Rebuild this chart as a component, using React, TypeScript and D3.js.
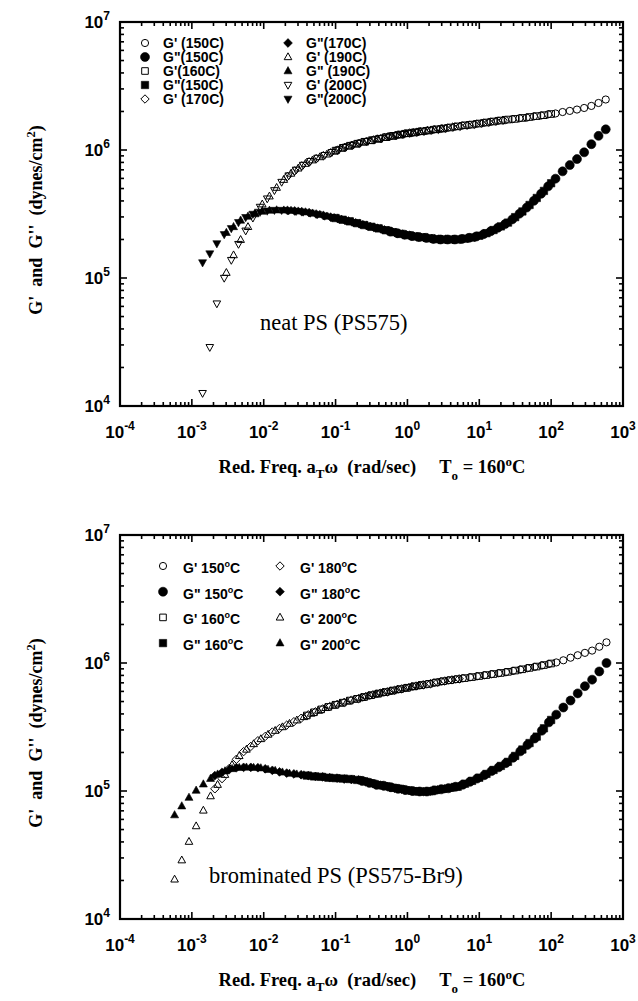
import React from 'react';
import * as d3 from 'd3';

// ---------------- DATA ----------------
// raw measured frequencies (rad/s)
const freqTop = [0.1, 0.126, 0.158, 0.2, 0.251, 0.316, 0.398, 0.501, 0.631, 0.794, 1, 1.26, 1.58, 2, 2.51, 3.16, 3.98, 5.01, 6.31, 7.94, 10, 12.6, 15.8, 20, 25.1, 31.6, 39.8, 50.1, 63.1, 79.4, 100];
const freqBottom = [0.0398, 0.0501, 0.0631, 0.0794, 0.1, 0.126, 0.158, 0.2, 0.251, 0.316, 0.398, 0.501, 0.631, 0.794, 1, 1.26, 1.58, 2, 2.51, 3.16, 3.98, 5.01, 6.31, 7.94, 10, 12.6, 15.8, 20, 25.1, 31.6, 39.8, 50.1, 63.1, 79.4, 100];

// shift factors a_T (T0 = 160C)
const tempsTop = ['150C', '160C', '170C', '190C', '200C'];
const shiftTop = [5.75, 1, 0.214, 0.0302, 0.0141];
const tempsBottom = ['150C', '160C', '180C', '200C'];
const shiftBottom = [5.89, 1, 0.0525, 0.01445];

// neat PS (PS575): G' and G'' in dynes/cm2
const gp150T = [1.28e6, 1.31e6, 1.34e6, 1.36e6, 1.39e6, 1.41e6, 1.44e6, 1.46e6, 1.49e6, 1.52e6, 1.55e6, 1.57e6, 1.60e6, 1.63e6, 1.66e6, 1.69e6, 1.71e6, 1.74e6, 1.77e6, 1.79e6, 1.83e6, 1.86e6, 1.90e6, 1.93e6, 1.98e6, 2.02e6, 2.07e6, 2.13e6, 2.21e6, 2.33e6, 2.48e6];
const gpp150T = [2.31e5, 2.24e5, 2.18e5, 2.13e5, 2.09e5, 2.06e5, 2.02e5, 2.00e5, 2.00e5, 2.00e5, 2.02e5, 2.06e5, 2.11e5, 2.20e5, 2.32e5, 2.47e5, 2.64e5, 2.87e5, 3.18e5, 3.55e5, 4.01e5, 4.55e5, 5.20e5, 5.97e5, 6.81e5, 7.62e5, 8.49e5, 9.59e5, 1.11e6, 1.29e6, 1.45e6];
const gp160T = [9.89e5, 1.04e6, 1.08e6, 1.12e6, 1.16e6, 1.19e6, 1.22e6, 1.26e6, 1.29e6, 1.32e6, 1.35e6, 1.37e6, 1.40e6, 1.42e6, 1.45e6, 1.47e6, 1.50e6, 1.53e6, 1.56e6, 1.58e6, 1.61e6, 1.64e6, 1.67e6, 1.70e6, 1.73e6, 1.75e6, 1.78e6, 1.81e6, 1.84e6, 1.87e6, 1.91e6];
const gpp160T = [2.94e5, 2.85e5, 2.77e5, 2.68e5, 2.59e5, 2.51e5, 2.44e5, 2.36e5, 2.28e5, 2.21e5, 2.16e5, 2.11e5, 2.08e5, 2.04e5, 2.01e5, 2.00e5, 2.00e5, 2.00e5, 2.03e5, 2.07e5, 2.14e5, 2.24e5, 2.37e5, 2.53e5, 2.71e5, 2.99e5, 3.31e5, 3.72e5, 4.22e5, 4.79e5, 5.50e5];
const gp170T = [6.22e5, 6.87e5, 7.52e5, 8.09e5, 8.57e5, 9.04e5, 9.51e5, 1.00e6, 1.05e6, 1.09e6, 1.13e6, 1.17e6, 1.20e6, 1.23e6, 1.27e6, 1.30e6, 1.33e6, 1.36e6, 1.38e6, 1.40e6, 1.43e6, 1.45e6, 1.48e6, 1.51e6, 1.53e6, 1.56e6, 1.59e6, 1.62e6, 1.65e6, 1.68e6, 1.71e6];
const gpp170T = [3.37e5, 3.34e5, 3.30e5, 3.24e5, 3.16e5, 3.08e5, 2.99e5, 2.91e5, 2.82e5, 2.74e5, 2.65e5, 2.57e5, 2.49e5, 2.42e5, 2.34e5, 2.26e5, 2.20e5, 2.15e5, 2.10e5, 2.07e5, 2.03e5, 2.01e5, 2.00e5, 2.00e5, 2.01e5, 2.05e5, 2.09e5, 2.17e5, 2.28e5, 2.42e5, 2.58e5];
const gp190T = [1.10e5, 1.51e5, 1.99e5, 2.51e5, 3.16e5, 3.77e5, 4.35e5, 5.08e5, 5.86e5, 6.55e5, 7.19e5, 7.82e5, 8.32e5, 8.81e5, 9.25e5, 9.77e5, 1.03e6, 1.07e6, 1.11e6, 1.15e6, 1.18e6, 1.22e6, 1.25e6, 1.28e6, 1.31e6, 1.34e6, 1.37e6, 1.39e6, 1.42e6, 1.44e6, 1.47e6];
const gpp190T = [2.26e5, 2.51e5, 2.82e5, 3.03e5, 3.21e5, 3.31e5, 3.37e5, 3.39e5, 3.38e5, 3.36e5, 3.32e5, 3.27e5, 3.20e5, 3.12e5, 3.03e5, 2.95e5, 2.87e5, 2.79e5, 2.70e5, 2.61e5, 2.53e5, 2.45e5, 2.38e5, 2.30e5, 2.23e5, 2.17e5, 2.12e5, 2.08e5, 2.05e5, 2.02e5, 2.00e5];
const gp200T = [1.26e4, 2.88e4, 6.31e4, 1.00e5, 1.38e5, 1.84e5, 2.34e5, 2.95e5, 3.59e5, 4.17e5, 4.84e5, 5.62e5, 6.31e5, 7.00e5, 7.64e5, 8.18e5, 8.67e5, 9.12e5, 9.62e5, 1.01e6, 1.06e6, 1.10e6, 1.14e6, 1.17e6, 1.21e6, 1.24e6, 1.27e6, 1.30e6, 1.33e6, 1.36e6, 1.39e6];
const gpp200T = [1.32e5, 1.55e5, 1.86e5, 2.19e5, 2.44e5, 2.72e5, 2.98e5, 3.16e5, 3.28e5, 3.35e5, 3.39e5, 3.39e5, 3.37e5, 3.33e5, 3.29e5, 3.23e5, 3.15e5, 3.06e5, 2.98e5, 2.90e5, 2.81e5, 2.72e5, 2.64e5, 2.55e5, 2.48e5, 2.40e5, 2.32e5, 2.25e5, 2.19e5, 2.14e5, 2.10e5];

// brominated PS (PS575-Br9)
const gp150B = [5.38e5, 5.56e5, 5.73e5, 5.89e5, 6.04e5, 6.21e5, 6.37e5, 6.53e5, 6.68e5, 6.82e5, 7.00e5, 7.16e5, 7.31e5, 7.45e5, 7.59e5, 7.73e5, 7.87e5, 8.02e5, 8.17e5, 8.32e5, 8.47e5, 8.67e5, 8.87e5, 9.10e5, 9.31e5, 9.55e5, 9.82e5, 1.01e6, 1.05e6, 1.10e6, 1.15e6, 1.20e6, 1.25e6, 1.34e6, 1.45e6];
const gpp150B = [1.20e5, 1.16e5, 1.12e5, 1.10e5, 1.07e5, 1.04e5, 1.02e5, 1.00e5, 9.91e4, 9.91e4, 1.01e5, 1.03e5, 1.05e5, 1.08e5, 1.12e5, 1.18e5, 1.25e5, 1.33e5, 1.43e5, 1.53e5, 1.65e5, 1.82e5, 2.04e5, 2.29e5, 2.57e5, 2.96e5, 3.44e5, 3.95e5, 4.49e5, 5.09e5, 5.79e5, 6.59e5, 7.41e5, 8.59e5, 1.00e6];
const gp160B = [3.89e5, 4.12e5, 4.34e5, 4.54e5, 4.72e5, 4.90e5, 5.09e5, 5.25e5, 5.43e5, 5.61e5, 5.78e5, 5.93e5, 6.10e5, 6.25e5, 6.41e5, 6.58e5, 6.73e5, 6.87e5, 7.05e5, 7.21e5, 7.35e5, 7.48e5, 7.62e5, 7.76e5, 7.91e5, 8.05e5, 8.20e5, 8.36e5, 8.53e5, 8.73e5, 8.93e5, 9.16e5, 9.38e5, 9.64e5, 9.91e5];
const gpp160B = [1.32e5, 1.30e5, 1.29e5, 1.27e5, 1.26e5, 1.25e5, 1.24e5, 1.22e5, 1.19e5, 1.15e5, 1.11e5, 1.09e5, 1.06e5, 1.04e5, 1.01e5, 9.95e4, 9.89e4, 9.93e4, 1.02e5, 1.04e5, 1.06e5, 1.08e5, 1.14e5, 1.20e5, 1.27e5, 1.36e5, 1.46e5, 1.57e5, 1.69e5, 1.88e5, 2.11e5, 2.37e5, 2.66e5, 3.09e5, 3.59e5];
const gp180B = [1.04e5, 1.25e5, 1.50e5, 1.77e5, 2.03e5, 2.23e5, 2.47e5, 2.67e5, 2.89e5, 3.08e5, 3.27e5, 3.48e5, 3.70e5, 3.94e5, 4.16e5, 4.38e5, 4.57e5, 4.75e5, 4.93e5, 5.13e5, 5.28e5, 5.47e5, 5.65e5, 5.81e5, 5.96e5, 6.12e5, 6.28e5, 6.44e5, 6.61e5, 6.76e5, 6.90e5, 7.08e5, 7.24e5, 7.38e5, 7.52e5];
const gpp180B = [1.32e5, 1.40e5, 1.47e5, 1.52e5, 1.53e5, 1.53e5, 1.52e5, 1.49e5, 1.45e5, 1.41e5, 1.38e5, 1.36e5, 1.34e5, 1.32e5, 1.30e5, 1.29e5, 1.27e5, 1.26e5, 1.24e5, 1.23e5, 1.22e5, 1.18e5, 1.14e5, 1.11e5, 1.08e5, 1.05e5, 1.03e5, 1.01e5, 9.93e4, 9.89e4, 9.98e4, 1.02e5, 1.04e5, 1.07e5, 1.09e5];
const gp200B = [2.04e4, 2.88e4, 4.02e4, 5.32e4, 7.05e4, 9.12e4, 1.12e5, 1.34e5, 1.60e5, 1.88e5, 2.11e5, 2.33e5, 2.55e5, 2.76e5, 2.96e5, 3.16e5, 3.36e5, 3.57e5, 3.79e5, 4.03e5, 4.25e5, 4.46e5, 4.65e5, 4.83e5, 5.01e5, 5.19e5, 5.36e5, 5.53e5, 5.71e5, 5.87e5, 6.03e5, 6.19e5, 6.35e5, 6.52e5, 6.67e5];
const gpp200B = [6.49e4, 7.62e4, 8.89e4, 1.01e5, 1.13e5, 1.25e5, 1.35e5, 1.43e5, 1.49e5, 1.52e5, 1.53e5, 1.52e5, 1.51e5, 1.47e5, 1.44e5, 1.40e5, 1.37e5, 1.35e5, 1.33e5, 1.31e5, 1.29e5, 1.28e5, 1.26e5, 1.25e5, 1.24e5, 1.23e5, 1.20e5, 1.16e5, 1.13e5, 1.10e5, 1.07e5, 1.04e5, 1.02e5, 1.00e5, 9.91e4];

const legendTopCol1 = ["G' (150C)", 'G"(150C)', "G'(160C)", 'G"(150C)', "G' (170C)"];
const legendTopCol2 = ['G"(170C)', "G' (190C)", 'G" (190C)', "G' (200C)", 'G"(200C)'];
const legendBotCol1 = ["G' 150", 'G" 150', "G' 160", 'G" 160'];
const legendBotCol2 = ["G' 180", 'G" 180', "G' 200", 'G" 200'];

// ---------------- STYLE ----------------
const PL = 120, PR = 623, PH = 384;
const SANS = "'Liberation Sans', Arial, Helvetica, sans-serif";
const SERIF = "'Liberation Serif', 'Times New Roman', serif";

type Mk = { shape: string; filled: boolean; s: number };
const M: Record<string, Mk> = {
  oc: { shape: 'circle', filled: false, s: 3.6 },
  fc: { shape: 'circle', filled: true, s: 4.5 },
  os: { shape: 'square', filled: false, s: 3.3 },
  fs: { shape: 'square', filled: true, s: 3.7 },
  od: { shape: 'diamond', filled: false, s: 4.2 },
  fd: { shape: 'diamond', filled: true, s: 4.4 },
  ou: { shape: 'up', filled: false, s: 3.8 },
  fu: { shape: 'up', filled: true, s: 4.0 },
  on: { shape: 'down', filled: false, s: 3.8 },
  fn: { shape: 'down', filled: true, s: 4.0 },
};

function markerPath(shape: string, s: number): string {
  const p = d3.path();
  if (shape === 'circle') {
    p.arc(0, 0, s, 0, Math.PI * 2);
  } else if (shape === 'square') {
    p.rect(-s, -s, 2 * s, 2 * s);
  } else if (shape === 'diamond') {
    p.moveTo(0, -s); p.lineTo(s, 0); p.lineTo(0, s); p.lineTo(-s, 0); p.closePath();
  } else if (shape === 'up') {
    p.moveTo(0, -s * 1.1); p.lineTo(s, s * 0.7); p.lineTo(-s, s * 0.7); p.closePath();
  } else {
    p.moveTo(0, s * 1.1); p.lineTo(s, -s * 0.7); p.lineTo(-s, -s * 0.7); p.closePath();
  }
  return p.toString();
}

function Marker({ x, y, mk }: { x: number; y: number; mk: Mk }) {
  return (
    <path
      d={markerPath(mk.shape, mk.s)}
      transform={`translate(${x},${y})`}
      fill={mk.filled ? '#000' : 'none'}
      stroke="#000"
      strokeWidth={mk.filled ? 0.6 : 1}
    />
  );
}

type Series = { freq: number[]; shift: number; vals: number[]; mk: Mk };

const seriesTop: Series[] = [
  { freq: freqTop, shift: shiftTop[4], vals: gpp200T, mk: M.fn },
  { freq: freqTop, shift: shiftTop[4], vals: gp200T, mk: M.on },
  { freq: freqTop, shift: shiftTop[3], vals: gpp190T, mk: M.fu },
  { freq: freqTop, shift: shiftTop[3], vals: gp190T, mk: M.ou },
  { freq: freqTop, shift: shiftTop[2], vals: gpp170T, mk: M.fd },
  { freq: freqTop, shift: shiftTop[2], vals: gp170T, mk: M.od },
  { freq: freqTop, shift: shiftTop[1], vals: gpp160T, mk: M.fs },
  { freq: freqTop, shift: shiftTop[1], vals: gp160T, mk: M.os },
  { freq: freqTop, shift: shiftTop[0], vals: gpp150T, mk: M.fc },
  { freq: freqTop, shift: shiftTop[0], vals: gp150T, mk: M.oc },
];

const seriesBottom: Series[] = [
  { freq: freqBottom, shift: shiftBottom[3], vals: gpp200B, mk: M.fu },
  { freq: freqBottom, shift: shiftBottom[3], vals: gp200B, mk: M.ou },
  { freq: freqBottom, shift: shiftBottom[2], vals: gpp180B, mk: M.fd },
  { freq: freqBottom, shift: shiftBottom[2], vals: gp180B, mk: M.od },
  { freq: freqBottom, shift: shiftBottom[1], vals: gpp160B, mk: M.fs },
  { freq: freqBottom, shift: shiftBottom[1], vals: gp160B, mk: M.os },
  { freq: freqBottom, shift: shiftBottom[0], vals: gpp150B, mk: M.fc },
  { freq: freqBottom, shift: shiftBottom[0], vals: gp150B, mk: M.oc },
];

function Panel({ top, series, legend, note }: { top: number; series: Series[]; legend: React.ReactNode; note: React.ReactNode }) {
  const bottom = top + PH;
  const x = d3.scaleLog().domain([1e-4, 1e3]).range([PL, PR]);
  const y = d3.scaleLog().domain([1e4, 1e7]).range([bottom, top]);
  const isMajor = (v: number) => Math.abs(Math.log10(v) - Math.round(Math.log10(v))) < 1e-6;
  const xt = x.ticks();
  const yt = y.ticks();
  const ticks: React.ReactNode[] = [];
  xt.forEach((v, i) => {
    const L = isMajor(v) ? 7 : 4;
    const px = x(v);
    ticks.push(<line key={'xb' + i} x1={px} x2={px} y1={bottom} y2={bottom - L} stroke="#000" strokeWidth={1.6} />);
    ticks.push(<line key={'xt' + i} x1={px} x2={px} y1={top} y2={top + L} stroke="#000" strokeWidth={1.6} />);
  });
  yt.forEach((v, i) => {
    const L = isMajor(v) ? 7 : 4;
    const py = y(v);
    ticks.push(<line key={'yl' + i} x1={PL} x2={PL + L} y1={py} y2={py} stroke="#000" strokeWidth={1.6} />);
    ticks.push(<line key={'yr' + i} x1={PR} x2={PR - L} y1={py} y2={py} stroke="#000" strokeWidth={1.6} />);
  });
  const xLabels = xt.filter(isMajor).map((v, i) => {
    const e = Math.round(Math.log10(v));
    return (
      <text key={'xl' + i} x={x(v)} y={bottom + 32} textAnchor="middle" fontFamily={SANS} fontWeight="bold" fontSize={17}>
        10<tspan dy={-8} fontSize={12}>{e}</tspan>
      </text>
    );
  });
  const yLabels = yt.filter(isMajor).map((v, i) => {
    const e = Math.round(Math.log10(v));
    return (
      <text key={'yl' + i} x={110} y={y(v) + 6} textAnchor="end" fontFamily={SANS} fontWeight="bold" fontSize={17}>
        10<tspan dy={-8} fontSize={12}>{e}</tspan>
      </text>
    );
  });
  const marks: React.ReactNode[] = [];
  series.forEach((s, si) => {
    s.freq.forEach((f, i) => {
      marks.push(<Marker key={`m${si}_${i}`} x={x(f * s.shift)} y={y(s.vals[i])} mk={s.mk} />);
    });
  });
  return (
    <g>
      <g>{marks}</g>
      {ticks}
      <rect x={PL} y={top} width={PR - PL} height={PH} fill="none" stroke="#000" strokeWidth={2.2} />
      {xLabels}
      {yLabels}
      {legend}
      {note}
      <text x={372} y={bottom + 67} textAnchor="middle" fontFamily={SERIF} fontWeight="bold" fontSize={18.5} style={{ whiteSpace: 'pre' }}>
        {'Red. Freq. a'}
        <tspan dy={5} fontSize={13}>T</tspan>
        <tspan dy={-5}>{'\u03C9  (rad/sec)     T'}</tspan>
        <tspan dy={7} fontSize={13}>o</tspan>
        <tspan dy={-7}>{' = 160'}</tspan>
        <tspan dy={-7} fontSize={13}>o</tspan>
        <tspan dy={7}>C</tspan>
      </text>
      <text transform={`translate(42,${top + PH / 2 + 6}) rotate(-90)`} textAnchor="middle" fontFamily={SERIF} fontWeight="bold" fontSize={18} style={{ whiteSpace: 'pre' }}>
        {"G'  and  G''  (dynes/cm"}
        <tspan dy={-7} fontSize={12.5}>2</tspan>
        <tspan dy={7}>)</tspan>
      </text>
    </g>
  );
}

function LegendTop() {
  const mk1 = [M.oc, M.fc, M.os, M.fs, M.od];
  const mk2 = [M.fd, M.ou, M.fu, M.on, M.fn];
  const rows = legendTopCol1.map((_, i) => 43 + 14 * i);
  return (
    <g fontFamily={SANS} fontWeight="bold" fontSize={14}>
      {rows.map((ry, i) => (
        <g key={i}>
          <Marker x={145} y={ry} mk={mk1[i]} />
          <text x={163} y={ry + 5}>{legendTopCol1[i]}</text>
          <Marker x={288} y={ry} mk={mk2[i]} />
          <text x={306} y={ry + 5}>{legendTopCol2[i]}</text>
        </g>
      ))}
    </g>
  );
}

function LegendBottom() {
  const mk1 = [M.oc, M.fc, M.os, M.fs];
  const mk2 = [M.od, M.fd, M.ou, M.fu];
  const rows = legendBotCol1.map((_, i) => 568 + 25.7 * i);
  return (
    <g fontFamily={SANS} fontWeight="bold" fontSize={14}>
      {rows.map((ry, i) => (
        <g key={i}>
          <Marker x={163} y={ry - 2} mk={mk1[i]} />
          <text x={183} y={ry + 5}>
            {legendBotCol1[i]}<tspan dy={-6} fontSize={9}>o</tspan><tspan dy={6}>C</tspan>
          </text>
          <Marker x={280} y={ry - 2} mk={mk2[i]} />
          <text x={300} y={ry + 5}>
            {legendBotCol2[i]}<tspan dy={-6} fontSize={9}>o</tspan><tspan dy={6}>C</tspan>
          </text>
        </g>
      ))}
    </g>
  );
}

export default function App() {
  return (
    <svg width={638} height={1001} viewBox="0 0 638 1001" style={{ position: 'absolute', left: 0, top: 0, background: '#fff' }}>
      <rect width={638} height={1001} fill="#fff" />
      <Panel
        top={22}
        series={seriesTop}
        legend={<LegendTop />}
        note={<text x={260} y={330} fontFamily={SERIF} fontSize={22.5}>neat PS (PS575)</text>}
      />
      <Panel
        top={535}
        series={seriesBottom}
        legend={<LegendBottom />}
        note={<text x={209} y={883} fontFamily={SERIF} fontSize={22.5}>brominated PS (PS575-Br9)</text>}
      />
    </svg>
  );
}
